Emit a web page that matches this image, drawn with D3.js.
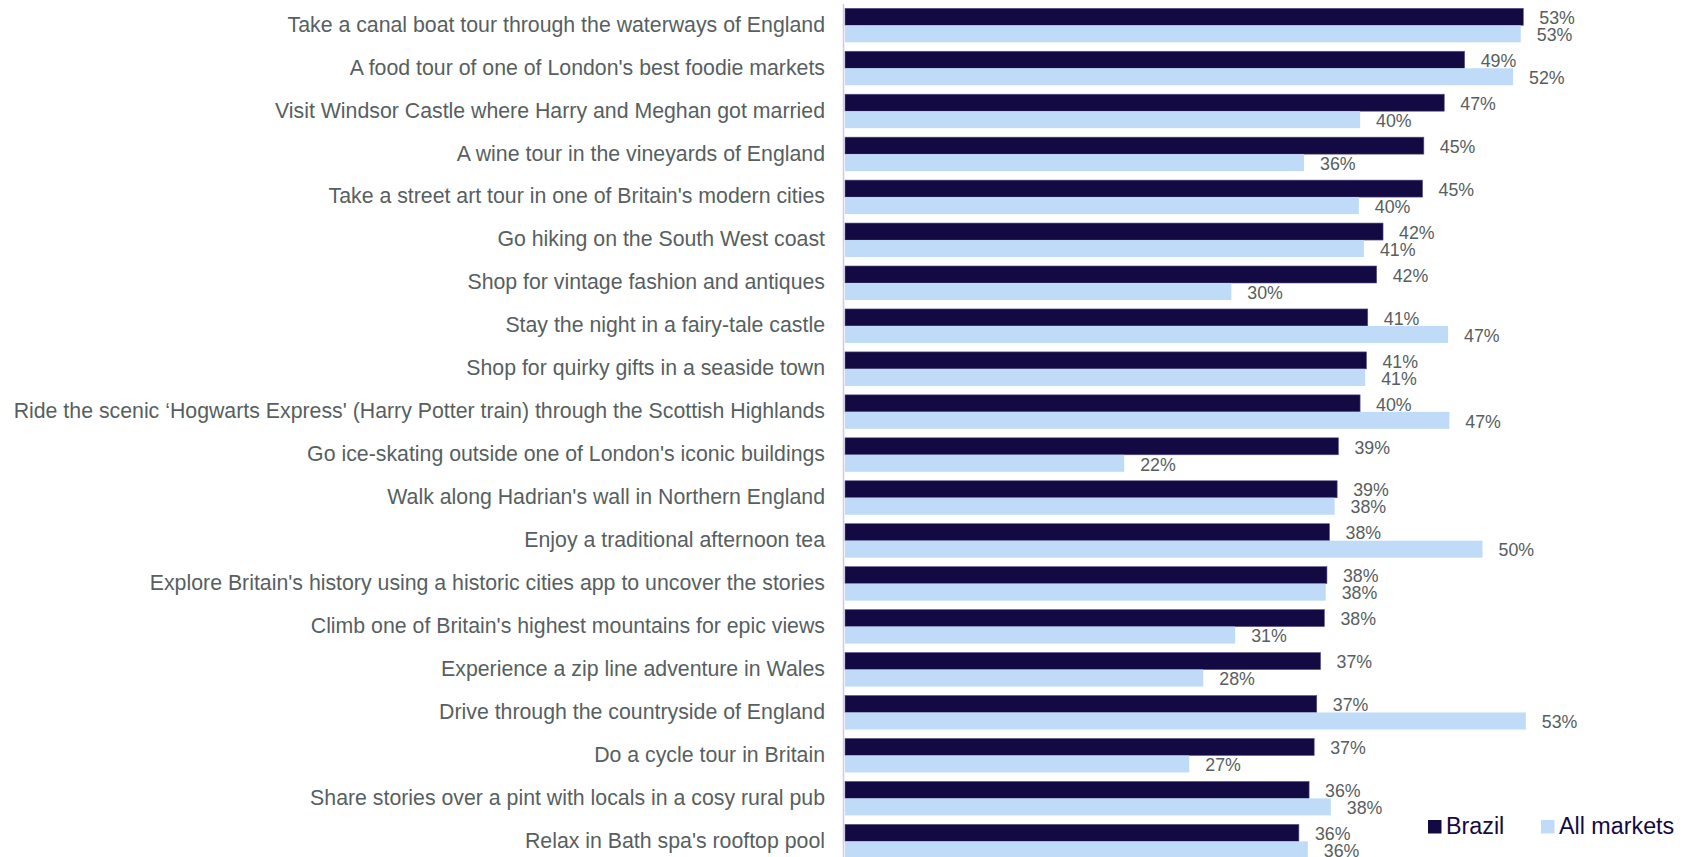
<!DOCTYPE html>
<html>
<head>
<meta charset="utf-8">
<script src="https://cdn.jsdelivr.net/npm/d3@7"></script>
<style>
  html, body { margin: 0; padding: 0; background: #ffffff; }
  svg { display: block; font-family: "Liberation Sans", Arial, sans-serif; }
</style>
</head>
<body>
<svg id="chart" width="1694" height="857"></svg>
<script>
const categories = [
  "Take a canal boat tour through the waterways of England",
  "A food tour of one of London's best foodie markets",
  "Visit Windsor Castle where Harry and Meghan got married",
  "A wine tour in the vineyards of England",
  "Take a street art tour in one of Britain's modern cities",
  "Go hiking on the South West coast",
  "Shop for vintage fashion and antiques",
  "Stay the night in a fairy-tale castle",
  "Shop for quirky gifts in a seaside town",
  "Ride the scenic \u2018Hogwarts Express' (Harry Potter train) through the Scottish Highlands",
  "Go ice-skating outside one of London's iconic buildings",
  "Walk along Hadrian's wall in Northern England",
  "Enjoy a traditional afternoon tea",
  "Explore Britain's history using a historic cities app to uncover the stories",
  "Climb one of Britain's highest mountains for epic views",
  "Experience a zip line adventure in Wales",
  "Drive through the countryside of England",
  "Do a cycle tour in Britain",
  "Share stories over a pint with locals in a cosy rural pub",
  "Relax in Bath spa's rooftop pool"
];
const brazil = [53.2, 48.6, 47.0, 45.4, 45.3, 42.2, 41.7, 41.0, 40.9, 40.4,
                38.7, 38.6, 38.0, 37.8, 37.6, 37.3, 37.0, 36.8, 36.4, 35.6];
const allMarkets = [53.0, 52.4, 40.4, 36.0, 40.3, 40.7, 30.3, 47.3, 40.8, 47.4,
                    21.9, 38.4, 50.0, 37.7, 30.6, 28.1, 53.4, 27.0, 38.1, 36.3];
const seriesNames = ["Brazil", "All markets"];
const seriesColors = ["#140a43", "#bfdbf7"];

const svg = d3.select("#chart");

const x = d3.scaleLinear().domain([0, 10]).range([845, 845 + 127.5]);
const y = d3.scaleBand().domain(categories).range([8.3, 858.35]).paddingInner(0.2084).paddingOuter(0);
const ySub = d3.scaleBand().domain(seriesNames).range([0, y.bandwidth()]);

const rows = categories.map((c, i) => ({ cat: c, vals: [brazil[i], allMarkets[i]] }));

const g = svg.selectAll("g.row").data(rows).join("g")
  .attr("class", "row")
  .attr("transform", d => `translate(0,${y(d.cat)})`);

g.selectAll("rect").data(d => d.vals.map((v, j) => ({ v, s: seriesNames[j], j })))
  .join("rect")
  .attr("x", x(0))
  .attr("y", d => ySub(d.s))
  .attr("width", d => x(d.v) - x(0))
  .attr("height", ySub.bandwidth())
  .attr("fill", d => seriesColors[d.j])
  .attr("stroke", d => d.j === 0 ? "#5d5689" : "none")
  .attr("stroke-width", 0.6);

g.selectAll("text.val").data(d => d.vals.map((v, j) => ({ v, s: seriesNames[j], j })))
  .join("text")
  .attr("class", "val")
  .attr("x", d => x(d.v) + 16)
  .attr("y", d => ySub(d.s) + ySub.bandwidth() / 2 + 1)
  .attr("dy", "0.35em")
  .attr("font-size", 17.8)
  .attr("fill", "#575e60")
  .text(d => Math.round(d.v) + "%");

// category axis
const yAxis = d3.axisLeft(y).tickSize(0).tickPadding(0);
const axisG = svg.append("g").attr("transform", "translate(825,0)").call(yAxis);
axisG.select(".domain").remove();
axisG.selectAll("text")
  .attr("font-size", 21.3)
  .attr("font-family", "Liberation Sans, Arial, sans-serif")
  .attr("fill", "#575f61")
  .attr("dy", "0.3em");

// vertical axis line
svg.append("line")
  .attr("x1", 843.5).attr("x2", 843.5)
  .attr("y1", 4).attr("y2", 857)
  .attr("stroke", "#cdc5f3")
  .attr("stroke-width", 1.5);

// legend
const legend = svg.append("g");
const legendItems = [
  { name: seriesNames[0], color: seriesColors[0], sx: 1428, tx: 1446 },
  { name: seriesNames[1], color: seriesColors[1], sx: 1541, tx: 1559 }
];
legendItems.forEach(it => {
  legend.append("rect").attr("x", it.sx).attr("y", 820).attr("width", 13.5).attr("height", 13.5).attr("fill", it.color);
  legend.append("text").attr("x", it.tx).attr("y", 833.5).attr("font-size", 23.3)
    .attr("fill", "#140a43").text(it.name);
});
</script>
</body>
</html>
